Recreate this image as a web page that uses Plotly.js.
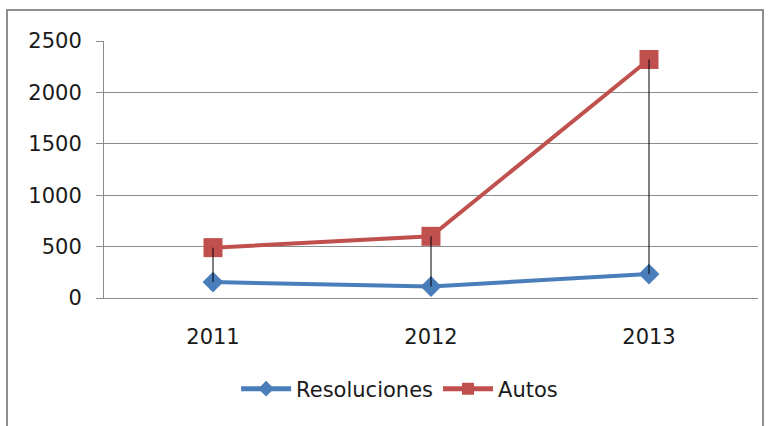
<!DOCTYPE html>
<html>
<head>
<meta charset="utf-8">
<script src="https://cdn.plot.ly/plotly-3.0.1.min.js"></script>
<style>
  html, body { margin: 0; padding: 0; background: #ffffff; }
  #chart { width: 772px; height: 426px; }
  #frame { position: absolute; left: 6px; top: 9px; width: 758px; height: 430px;
           border: 2px solid #8e8e8e; pointer-events: none; box-sizing: border-box; }
</style>
</head>
<body>
<div id="chart"></div>
<div id="frame"></div>
<script>
const years = ['2011', '2012', '2013'];
const resoluciones = [155, 112, 233];
const autos = [490, 600, 2320];
const yTicks = [0, 500, 1000, 1500, 2000, 2500];

const FONT = 'DejaVu Sans, sans-serif';
const TXT = '#1a1a1a';

// high-low (drop) lines between the two series at each category
const dropX = [], dropY = [];
years.forEach((yr, i) => {
  dropX.push(yr, yr, null);
  dropY.push(resoluciones[i], autos[i], null);
});

const traces = [
  {
    x: years, y: resoluciones, name: 'Resoluciones', type: 'scatter', mode: 'lines+markers',
    line: { color: '#4a7ebb', width: 4 },
    marker: { symbol: 'diamond', size: 16, color: '#4a7ebb' }
  },
  {
    x: years, y: autos, name: 'Autos', type: 'scatter', mode: 'lines+markers',
    line: { color: '#c0504d', width: 4 },
    marker: { symbol: 'square', size: 19, color: '#c0504d' }
  },
  {
    x: dropX, y: dropY, type: 'scatter', mode: 'lines', showlegend: false,
    line: { color: '#000000', width: 1 }, hoverinfo: 'skip'
  }
];

const layout = {
  width: 772, height: 426,
  margin: { l: 104, r: 14, t: 41, b: 128 },
  paper_bgcolor: '#ffffff', plot_bgcolor: '#ffffff',
  font: { family: FONT, size: 21, color: TXT },
  showlegend: true,
  legend: {
    orientation: 'h', x: 0.452, xanchor: 'center', y: -0.354, yanchor: 'middle',
    font: { family: FONT, size: 21, color: TXT }, itemsizing: 'constant',
    itemwidth: 50
  },
  xaxis: {
    type: 'category', range: [-0.5, 2.5], showgrid: false,
    showline: true, linecolor: '#8b8b8b', linewidth: 1,
    ticks: '', ticklabelstandoff: 20, zeroline: false,
    tickfont: { family: FONT, size: 21, color: TXT }
  },
  yaxis: {
    range: [0, 2500], tickvals: yTicks, ticktext: yTicks.map(String),
    showgrid: true, gridcolor: '#8b8b8b', gridwidth: 1,
    showline: true, linecolor: '#8b8b8b', linewidth: 1,
    ticks: 'outside', ticklen: 7, tickcolor: '#8b8b8b', ticklabelstandoff: 10,
    zeroline: false,
    tickfont: { family: FONT, size: 21, color: TXT }
  }
};

Plotly.newPlot('chart', traces, layout, { displayModeBar: false, staticPlot: true });
</script>
</body>
</html>
